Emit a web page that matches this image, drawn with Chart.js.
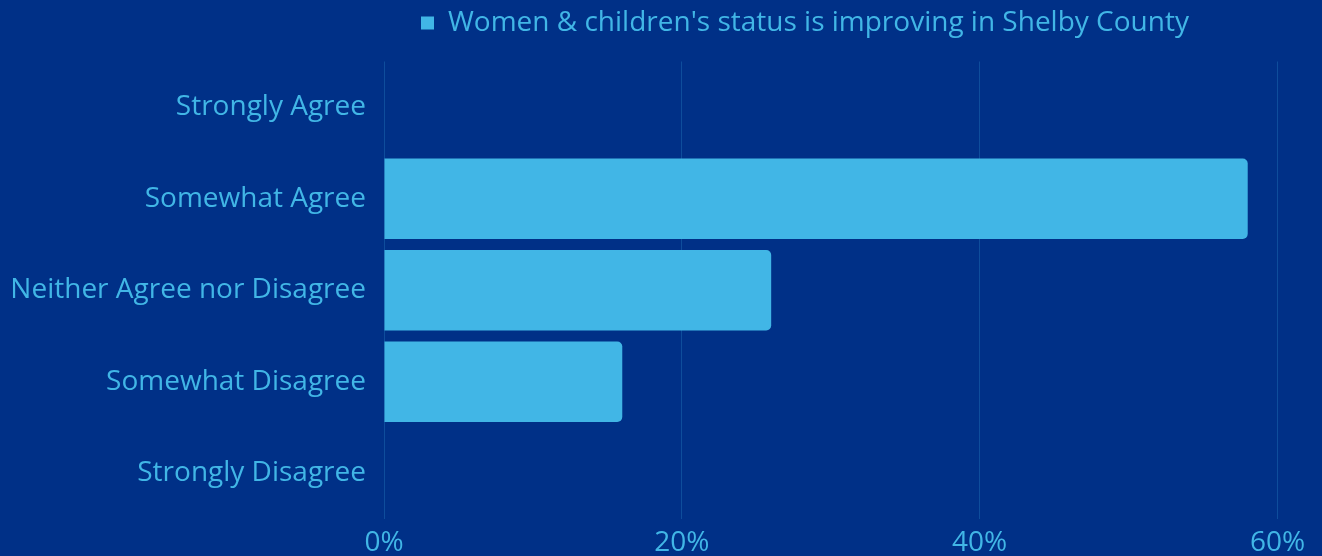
<!DOCTYPE html>
<html>
<head>
<meta charset="utf-8">
<script src="https://cdn.jsdelivr.net/npm/chart.js@4"></script>
<style>
  html, body { margin: 0; padding: 0; background: #003087; }
  #wrap { width: 1322px; height: 556px; position: relative; }
</style>
</head>
<body>
<div id="wrap"><canvas id="first_chart"></canvas></div>
<script>
var CATEGORIES = ["Strongly Agree", "Somewhat Agree", "Neither Agree nor Disagree", "Somewhat Disagree", "Strongly Disagree"];
var SERIES_LABEL = "Women & children's status is improving in Shelby County";
var SERIES_VALUES = [0, 58, 26, 16, 0];
var X_TICKS = [0, 20, 40, 60];

var TEXT_COLOR = "#41b6e6";
var BAR_COLOR = "#41b6e6";
var FONT = "'Open Sans', sans-serif";

// legend sizing + placement tweaks
const legendTweak = {
  id: "legendTweak",
  beforeInit(chart) {
    const fit = chart.legend.fit;
    chart.legend.fit = function () {
      fit.bind(chart.legend)();
      this.height = 61.5;
    };
  },
  afterLayout(chart) {
    chart.legend.left = 412;
    chart.legend.right = 1322;
  }
};

function genBarChart() {
  const ctx = document.getElementById("first_chart");

  const chart_data = {
    labels: CATEGORIES,
    datasets: [{
      label: SERIES_LABEL,
      data: SERIES_VALUES,
      backgroundColor: BAR_COLOR,
      borderRadius: 5,
      barPercentage: 0.88,
      categoryPercentage: 1.0
    }]
  };

  const options = {
    indexAxis: "y",
    responsive: true,
    maintainAspectRatio: false,
    animation: false,
    layout: { padding: { left: 0, right: 44.5, top: 0, bottom: 0 } },
    plugins: {
      legend: {
        position: "top",
        align: "start",
        labels: {
          color: TEXT_COLOR,
          font: { family: FONT, size: 28 },
          boxWidth: 13,
          boxHeight: 13,
          padding: 9
        }
      },
      tooltip: { enabled: false }
    },
    scales: {
      x: {
        min: 0,
        max: 60,
        afterBuildTicks: function (axis) {
          axis.ticks = X_TICKS.map(v => ({ value: v }));
        },
        afterFit: function (axis) { axis.height = 37; },
        border: { display: false },
        grid: {
          color: "rgba(65,182,230,0.22)",
          lineWidth: 1,
          drawTicks: false
        },
        ticks: {
          color: TEXT_COLOR,
          font: { family: FONT, size: 28 },
          padding: 7,
          maxRotation: 0,
          callback: function (v) { return v + "%"; }
        }
      },
      y: {
        afterFit: function (axis) { axis.width = 384; },
        border: { display: false },
        grid: { display: false, drawTicks: false },
        ticks: {
          color: TEXT_COLOR,
          font: { family: FONT, size: 28 },
          padding: 18
        }
      }
    }
  };

  return new Chart(ctx, {
    type: "bar",
    data: chart_data,
    options: options,
    plugins: [legendTweak]
  });
}

genBarChart();
</script>
</body>
</html>
